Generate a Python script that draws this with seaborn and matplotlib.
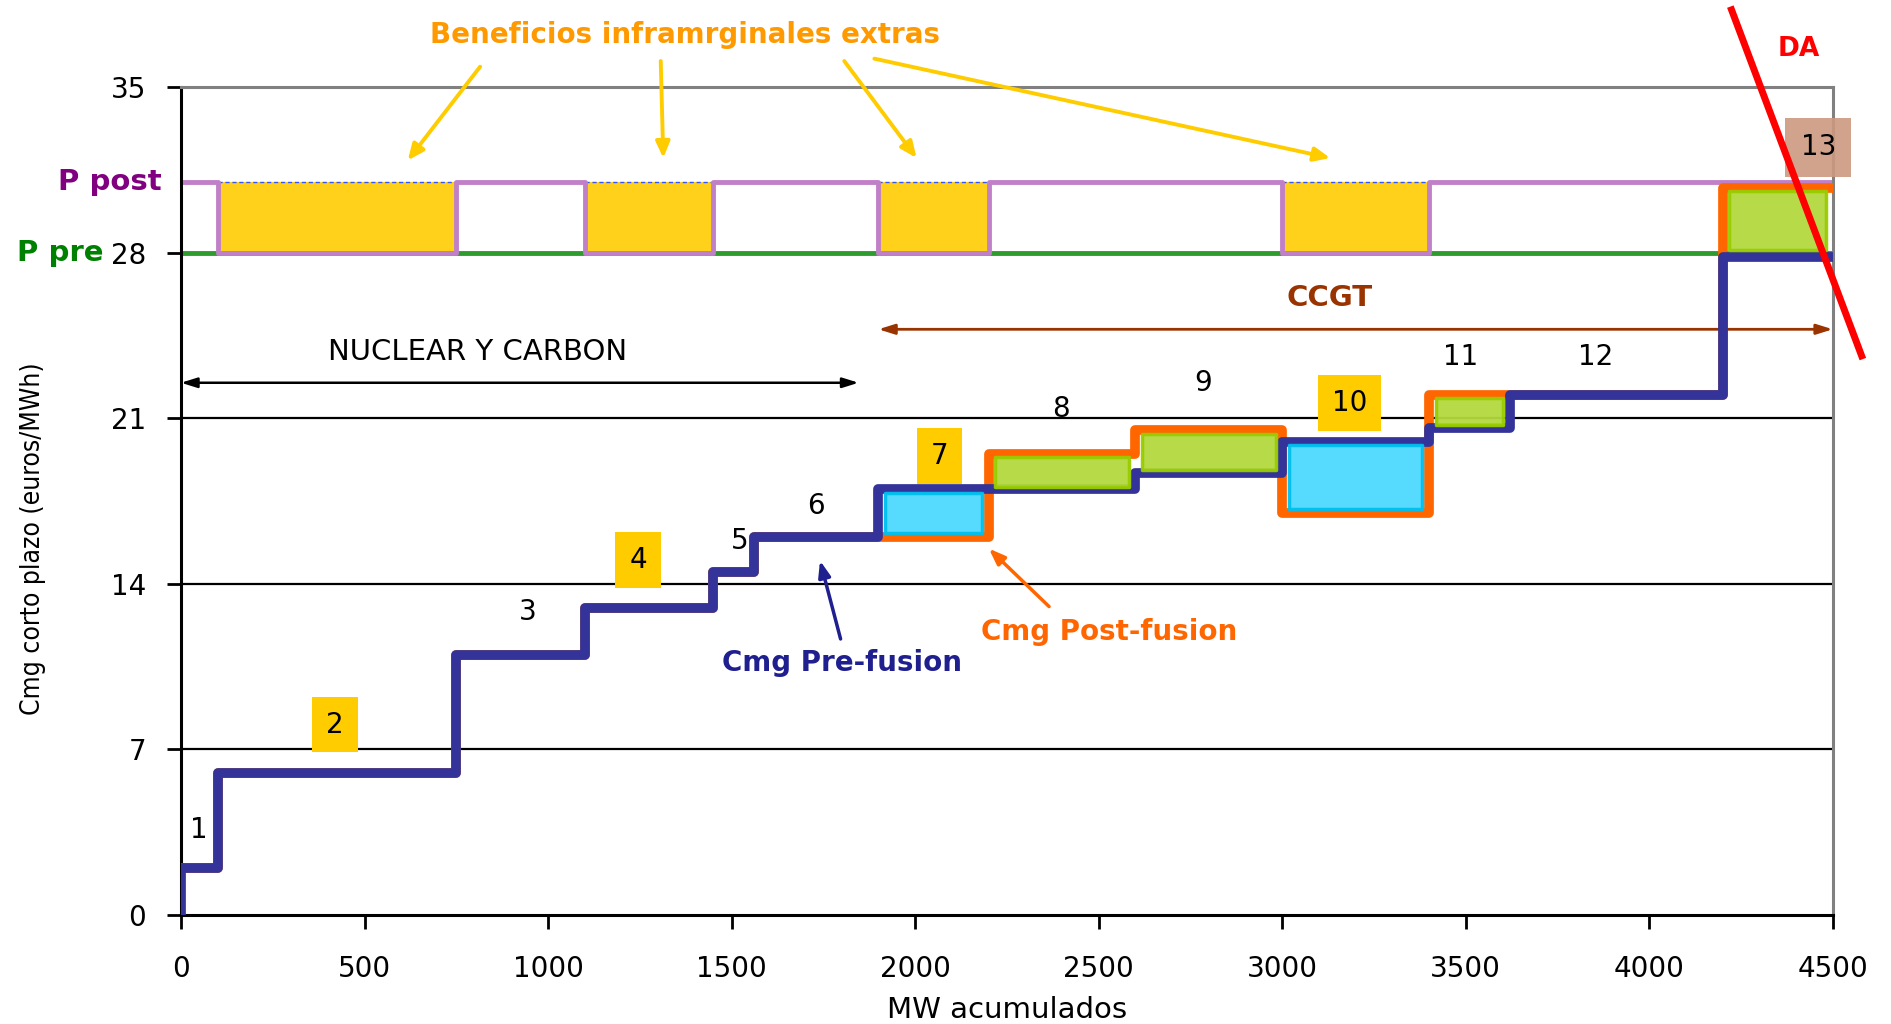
import numpy as np
import pandas as pd
import matplotlib
matplotlib.use("Agg")
import matplotlib.pyplot as plt
import seaborn as sns

# ---------------- data ----------------
edges = [0, 100, 750, 1100, 1450, 1560, 1900, 2200, 2600, 3000, 3400, 3620, 4200, 4500]
cmg_pre = [2, 6, 11, 13, 14.5, 16, 18, 18, 18.7, 20, 20.6, 22, 27.8]
cmg_post = [2, 6, 11, 13, 14.5, 16, 16, 19.5, 20.5, 17, 22, 22, 30.75]
plant_labels = ["1", "2", "3", "4", "5", "6", "7", "8", "9", "10", "11", "12", "13"]
merged_plants = ["2", "4", "7", "10"]
p_pre = 28
p_post = 31
yticks = [0, 7, 14, 21, 28, 35]
xticks = [0, 500, 1000, 1500, 2000, 2500, 3000, 3500, 4000, 4500]

# ---------------- style ----------------
sns.set_theme(style="white")
plt.rcParams["font.family"] = ["DejaVu Sans"]
plt.rcParams["text.color"] = "black"
plt.rcParams["axes.labelcolor"] = "black"
plt.rcParams["xtick.color"] = "black"
plt.rcParams["ytick.color"] = "black"

NAVY = "#333399"
ORANGE = "#FF6600"
CYAN = "#4DD9FF"
CYAN_E = "#00BFEF"
GREEN_F = "#B2D83E"
GREEN_E = "#99CC00"
YELLOW = "#FFCC00"
PURPLE = "#C080C8"
GREEN_L = "#2E9B2E"

fig = plt.figure(figsize=(18.91, 10.24), dpi=100)
ax = fig.add_axes([0.0957, 0.1064, 0.8735, 0.8086])

# grid lines
for yv in yticks[1:4]:
    ax.axhline(yv, color="black", lw=1.6, zorder=0.5)

# yellow boxes (extra inframarginal profits) for merged plants
for i, lab in enumerate(plant_labels):
    if lab in merged_plants:
        ax.fill_between([edges[i], edges[i + 1]], p_pre, p_post, color="#FFD11A",
                        lw=0, zorder=1)
        ax.plot([edges[i], edges[i + 1]], [p_post, p_post], color="#3355FF", lw=1,
                ls=(0, (3, 2)), zorder=1.2)

# P pre line
ax.plot([edges[0], edges[-1]], [p_pre, p_pre], color=GREEN_L, lw=3.5, zorder=1.5)

# P post curve (purple)
ppost_curve = [p_pre if lab in merged_plants else p_post for lab in plant_labels]
pp_df = pd.DataFrame({"x": edges, "y": ppost_curve + [ppost_curve[-1]]})
sns.lineplot(data=pp_df, x="x", y="y", drawstyle="steps-post", color=PURPLE, lw=3.5,
             ax=ax, zorder=2, sort=False, estimator=None)

# cost curves
post_df = pd.DataFrame({"x": edges, "y": cmg_post + [cmg_post[-1]]})
pre_df = pd.DataFrame({"x": [0] + edges, "y": [0] + cmg_pre + [cmg_pre[-1]]})
sns.lineplot(data=post_df, x="x", y="y", drawstyle="steps-post", color=ORANGE, lw=7,
             ax=ax, zorder=3, sort=False, estimator=None)
sns.lineplot(data=pre_df, x="x", y="y", drawstyle="steps-post", color=NAVY, lw=7,
             ax=ax, zorder=4, sort=False, estimator=None)

# change boxes
for i in range(len(plant_labels)):
    a, b = cmg_pre[i], cmg_post[i]
    if abs(a - b) < 1e-9:
        continue
    x0, x1 = edges[i] + 18, edges[i + 1] - 18
    if b < a:
        fc, ec = CYAN, CYAN_E
        lo, hi = b + 0.15, a - 0.15
    else:
        fc, ec = GREEN_F, GREEN_E
        lo = (max(a, p_pre) if i == len(plant_labels) - 1 else a) + 0.1
        hi = b - 0.15
    ax.fill_between([x0, x1], lo, hi, facecolor=fc, edgecolor=ec, lw=2.5,
                    alpha=0.95, zorder=5)

# ---------------- axes ----------------
ax.set_xlim(0, 4500)
ax.set_ylim(0, 35)
ax.set_xticks(xticks)
ax.set_yticks(yticks)
ax.tick_params(axis="both", labelsize=20, length=10, width=2, color="black",
               labelcolor="black", direction="out", left=True, bottom=True)
ax.tick_params(axis="y", pad=15)
ax.tick_params(axis="x", pad=19)
for s in ["left", "bottom"]:
    ax.spines[s].set_color("black")
    ax.spines[s].set_linewidth(2.2)
for s in ["top", "right"]:
    ax.spines[s].set_color("#808080")
    ax.spines[s].set_linewidth(2.2)
    ax.spines[s].set_visible(True)

ax.set_xlabel("MW acumulados", fontsize=21, color="black")
ax.xaxis.set_label_coords(0.5, -0.098)
ax.set_ylabel("Cmg corto plazo (euros/MWh)", fontsize=19, fontstretch="condensed",
              color="black")
ax.yaxis.set_label_coords(-0.082, 0.455)

# P post / P pre labels
trans = matplotlib.transforms.blended_transform_factory(ax.transAxes, ax.transData)
ax.text(-0.012, p_post, "P post", transform=trans, ha="right", va="center",
        fontsize=21, fontweight="bold", color="#800080")
ax.text(-0.047, p_pre, "P pre", transform=trans, ha="right", va="center",
        fontsize=21, fontweight="bold", color="#008000")

# plant number labels
label_pos = [(49, 3.6), (420, 8.05), (946, 12.8), (1245, 15.0), (1521, 15.8),
             (1731, 17.3), (2066, 19.4), (2398, 21.4), (2786, 22.5), (3183, 21.65),
             (3485, 23.6), (3853, 23.6), (4461, 32.45)]
for lab, (lx, ly) in zip(plant_labels, label_pos):
    bbox = None
    if lab in merged_plants:
        bbox = dict(boxstyle="square,pad=0.5", fc=YELLOW, ec="none")
    elif lab == "13":
        bbox = dict(boxstyle="square,pad=0.55", fc="#CC9980", ec="none", alpha=0.9)
    ax.text(lx, ly, lab, ha="center", va="center", fontsize=20, color="black",
            bbox=bbox, zorder=6)

# Beneficios annotation
ax.text(1373, 37.2, "Beneficios inframrginales extras", ha="center", va="center",
        fontsize=20, fontweight="bold", color="#FF9900")
yarrows = [((815, 35.86), (618, 31.9)), ((1307, 36.1), (1314, 32.0)),
           ((1807, 36.1), (2004, 32.0)), ((1889, 36.2), (3131, 32.0))]
for (sx, sy), (ex, ey) in yarrows:
    ax.annotate("", xy=(ex, ey), xytext=(sx, sy), annotation_clip=False,
                arrowprops=dict(arrowstyle="-|>,head_length=0.8,head_width=0.35",
                                color=YELLOW, lw=2.8, shrinkA=0, shrinkB=0))

# DA demand line
ax.plot([4221, 4582], [38.4, 23.5], color="#FF0000", lw=5, clip_on=False, zorder=7,
        solid_capstyle="butt")
ax.text(4408, 36.6, "DA", ha="center", va="center", fontsize=19,
        fontweight="bold", color="#FF0000")

# CCGT
ax.text(3130, 26.1, "CCGT", ha="center", va="center", fontsize=21,
        fontweight="bold", color="#993300")
ax.annotate("", xy=(4500, 24.76), xytext=(1900, 24.76),
            arrowprops=dict(arrowstyle="<|-|>,head_length=0.8,head_width=0.25",
                            color="#993300", lw=2, shrinkA=0, shrinkB=0))

# Nuclear y carbon
ax.text(808, 23.8, "NUCLEAR Y CARBON", ha="center", va="center", fontsize=21,
        color="black")
ax.annotate("", xy=(1846, 22.5), xytext=(0, 22.5),
            arrowprops=dict(arrowstyle="<|-|>,head_length=0.8,head_width=0.25",
                            color="black", lw=1.8, shrinkA=0, shrinkB=0))

# Cmg Pre-fusion / Post-fusion
ax.text(1800, 10.65, "Cmg Pre-fusion", ha="center", va="center", fontsize=20,
        fontweight="bold", color="#1F1F8F")
ax.annotate("", xy=(1741, 14.98), xytext=(1797, 11.67),
            arrowprops=dict(arrowstyle="-|>,head_length=0.8,head_width=0.3",
                            color="#1F1F8F", lw=2.5, shrinkA=0, shrinkB=0))
ax.text(2529, 11.97, "Cmg Post-fusion", ha="center", va="center", fontsize=20,
        fontweight="bold", color=ORANGE)
ax.annotate("", xy=(2201, 15.49), xytext=(2365, 13.04),
            arrowprops=dict(arrowstyle="-|>,head_length=0.8,head_width=0.3",
                            color=ORANGE, lw=2.5, shrinkA=0, shrinkB=0))

fig.savefig("out.png", dpi=100)
